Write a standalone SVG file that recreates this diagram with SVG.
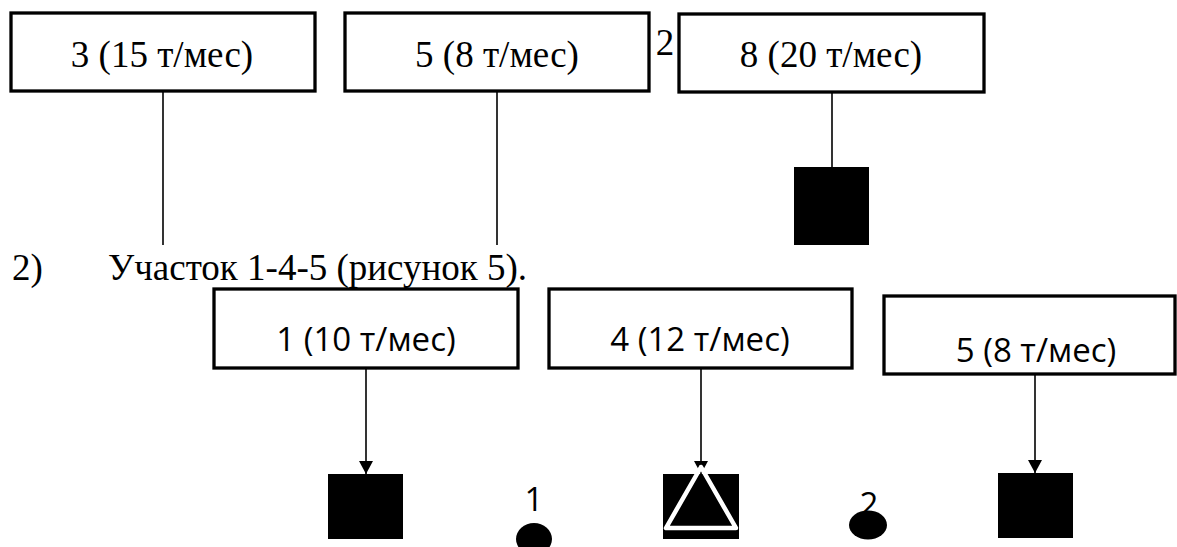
<svg xmlns="http://www.w3.org/2000/svg" width="1177" height="547" viewBox="0 0 1177 547">
<style>
.box{fill:#fff;stroke:#000;stroke-width:3.3}
.serif{font-family:"Liberation Serif","Times New Roman",serif;font-size:37px;fill:#000}
.sans{font-family:"Open Sans","Noto Sans",sans-serif;font-size:33px;fill:#000}
.ln{stroke:#000;stroke-width:1.6;fill:none}
.blk{fill:#000}
</style>
<defs>
<marker id="arr" markerWidth="16" markerHeight="14" refX="13" refY="7" orient="auto" markerUnits="userSpaceOnUse">
<path d="M0,0 L13,7 L0,14 Z" fill="#000"/>
</marker>
</defs>
<g id="connectors">
<line class="ln" x1="163" y1="92" x2="163" y2="245"/>
<line class="ln" x1="497" y1="92" x2="497" y2="245"/>
<line class="ln" x1="832" y1="92" x2="832" y2="168"/>
<line class="ln" x1="366" y1="369" x2="366" y2="474" marker-end="url(#arr)"/>
<line class="ln" x1="701" y1="369" x2="701" y2="474" marker-end="url(#arr)"/>
<line class="ln" x1="1035" y1="366" x2="1035" y2="473" marker-end="url(#arr)"/>
</g>
<g id="node-3">
<rect class="box" x="11" y="13" width="304" height="78"/>
<text class="serif" x="162" y="67" text-anchor="middle">3 (15 т/мес)</text>
</g>
<g id="node-5-top">
<rect class="box" x="345" y="13" width="304" height="78"/>
<text class="serif" x="497" y="67" text-anchor="middle">5 (8 т/мес)</text>
</g>
<g id="label-2-top">
<text class="serif" x="665" y="55" text-anchor="middle">2</text>
</g>
<g id="node-8">
<rect class="box" x="679" y="14" width="305" height="78"/>
<text class="serif" x="831" y="67" text-anchor="middle">8 (20 т/мес)</text>
</g>
<g id="sym-8">
<rect class="blk" x="794" y="167" width="75" height="78"/>
</g>
<g id="heading">
<text class="serif" x="12" y="280">2)</text>
<text class="serif" x="108" y="280">Участок 1-4-5 (рисунок 5).</text>
</g>
<g id="node-1">
<rect class="box" x="214" y="289" width="304" height="79"/>
<text class="sans" x="366" y="351" text-anchor="middle">1 (10 т/мес)</text>
</g>
<g id="node-4">
<rect class="box" x="549" y="289" width="303" height="79"/>
<text class="sans" x="700" y="351" text-anchor="middle">4 (12 т/мес)</text>
</g>
<g id="node-5-bottom">
<rect class="box" x="884" y="296" width="291" height="78"/>
<text class="sans" x="1036" y="362" text-anchor="middle">5 (8 т/мес)</text>
</g>
<g id="sym-1">
<rect class="blk" x="328" y="474" width="75" height="65"/>
</g>
<g id="sym-4">
<rect class="blk" x="663" y="474" width="76" height="65"/>
<polygon points="701,467 666,528 736,528" fill="none" stroke="#fff" stroke-width="4.5" stroke-linejoin="round"/>
</g>
<g id="sym-5">
<rect class="blk" x="998" y="473" width="75" height="65"/>
</g>
<g id="point-1">
<text class="sans" x="534" y="511" text-anchor="middle">1</text>
<ellipse class="blk" cx="534" cy="539" rx="18" ry="16"/>
</g>
<g id="point-2">
<text class="sans" x="869" y="516" text-anchor="middle">2</text>
<ellipse class="blk" cx="868" cy="525" rx="19" ry="14.5"/>
</g>
</svg>
